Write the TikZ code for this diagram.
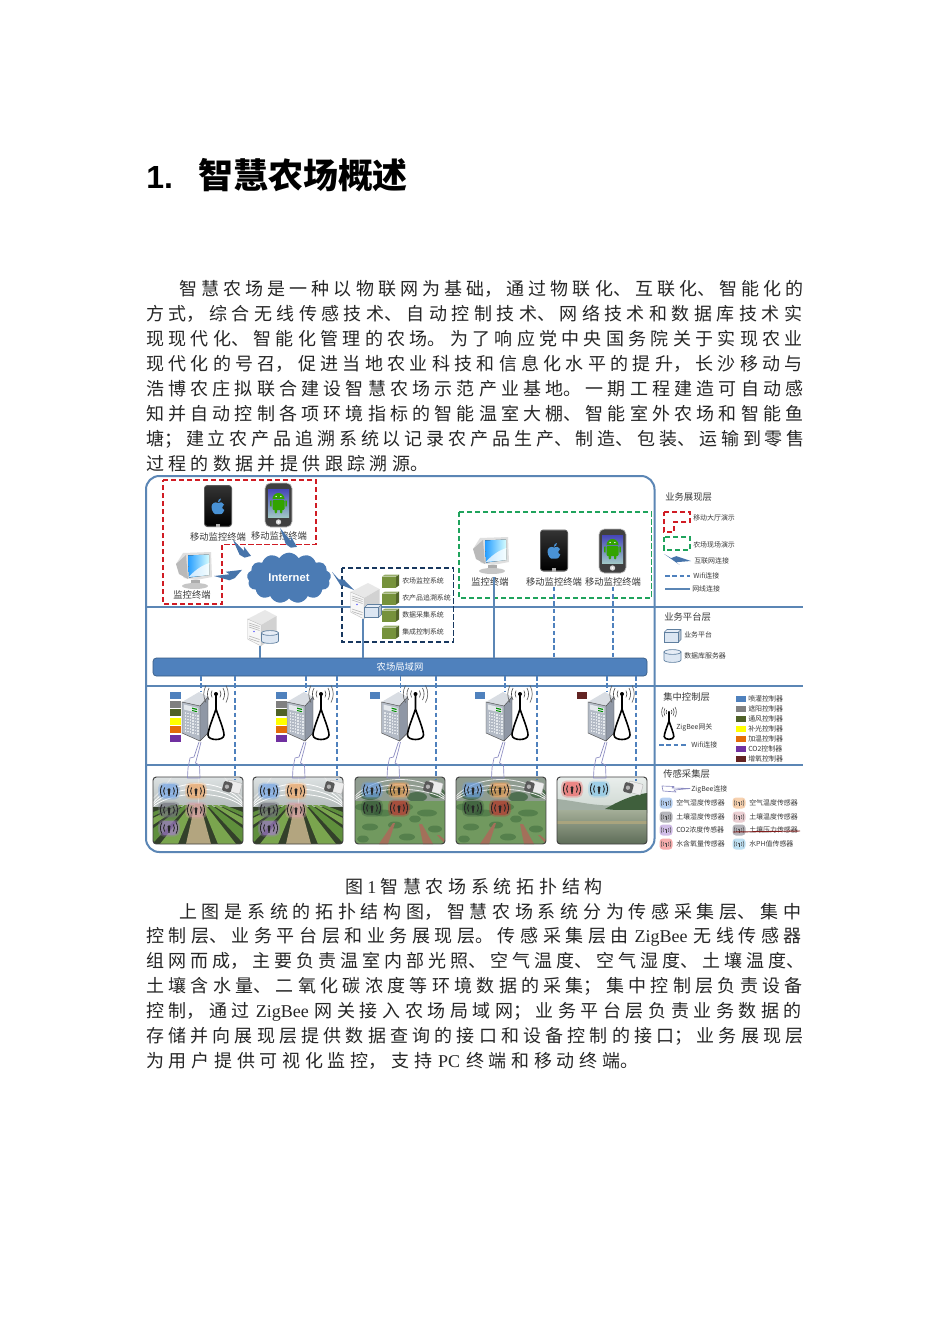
\documentclass[tikz,border=0pt]{standalone}
\usepackage{fontspec}
\setmainfont{Noto Sans CJK SC}
\newfontfamily\latserif{Liberation Serif}
\newfontfamily\latsans{Liberation Sans}
\XeTeXlinebreaklocale "zh"
\XeTeXlinebreakskip=0pt plus 6pt
\usetikzlibrary{shapes.symbols,calc}
\definecolor{lnk}{HTML}{4F81BD}
\definecolor{lay}{HTML}{5B86B5}
\definecolor{redd}{HTML}{D01C24}
\definecolor{grnd}{HTML}{1FA35C}
\definecolor{navd}{HTML}{17375E}
\definecolor{cblue}{HTML}{4F81BD}
\definecolor{cgray}{HTML}{808080}
\definecolor{colive}{HTML}{4F6228}
\definecolor{cyel}{HTML}{FFFF00}
\definecolor{corg}{HTML}{E36C09}
\definecolor{cpur}{HTML}{7030A0}
\definecolor{cmar}{HTML}{632423}
\definecolor{sblue}{HTML}{6FA2E6}
\definecolor{sorg}{HTML}{F0A460}
\definecolor{sgray}{HTML}{6E6E7A}
\definecolor{spink}{HTML}{D8A0A8}
\definecolor{spur}{HTML}{A47CD0}
\definecolor{sred}{HTML}{F05A5A}
\definecolor{steal}{HTML}{80C4E8}
\definecolor{sdgrn}{HTML}{2F4F35}
\definecolor{sdred}{HTML}{C02F2F}
\definecolor{txt}{HTML}{3A3A3A}
\definecolor{cubeg}{HTML}{76923C}
\definecolor{pale}{HTML}{DCE6F2}
\definecolor{palee}{HTML}{5F7F9F}
\definecolor{gwfront}{HTML}{B4BBC6}
\definecolor{gwside}{HTML}{8F97A5}
\definecolor{gwtop}{HTML}{D9DDE3}
\definecolor{gwcell}{HTML}{E4E8EC}
\definecolor{aSky}{HTML}{DDE2E3}
\definecolor{aSkyB}{HTML}{AEB6B4}
\definecolor{aSoil}{HTML}{33402A}
\definecolor{aRow}{HTML}{5F8F3C}
\definecolor{aRowB}{HTML}{7AA54E}
\definecolor{aPath}{HTML}{B3A57F}
\definecolor{bTop}{HTML}{8F9C90}
\definecolor{bFol}{HTML}{4F6F50}
\definecolor{bGrnd}{HTML}{71995F}
\definecolor{bPatch}{HTML}{55804C}
\definecolor{bPath}{HTML}{A3705A}
\definecolor{cSky}{HTML}{E9EEEC}
\definecolor{cSkyB}{HTML}{CFD8D2}
\definecolor{cHillA}{HTML}{A2AFA4}
\definecolor{cHillB}{HTML}{3F5F3C}
\definecolor{cWatA}{HTML}{A4AE98}
\definecolor{cWatB}{HTML}{5E6D58}
\definecolor{cBank}{HTML}{A9A47E}
\tikzset{
  x=0.75pt,y=-0.75pt,
  hit/.style 2 args={inner sep=0,outer sep=0,minimum width=#1*0.75pt,minimum height=#2*0.75pt},
  frameline/.style={draw=lay,line width=1.5pt},
  layline/.style={draw=lay,line width=0.8pt},
  wire/.style={draw=lay,line width=1pt},
  wifi/.style={draw=lnk,line width=1pt,dash pattern=on 3.5pt off 2pt},
  reddash/.style={draw=redd,line width=1.4pt,dash pattern=on 4pt off 2pt},
  grndash/.style={draw=grnd,line width=1.4pt,dash pattern=on 4pt off 2pt},
  navdash/.style={draw=navd,line width=1.4pt,dash pattern=on 4pt off 2pt},
  devlab/.style={inner sep=0,text=txt,font=\fontsize{7}{8}\selectfont},
  smallab/.style={inner sep=0,anchor=west,text=txt,font=\fontsize{5.2}{6}\selectfont},
  laytitle/.style={inner sep=0,anchor=west,text=txt,font=\fontsize{7}{8}\selectfont},
  body/.style={inner sep=0,anchor=base west,text width=507pt,font=\fontsize{13.5}{18.65}\selectfont,text=black!85},
  boltfill/.style={fill=lnk!90!black},
  pics/phonea/.style={code={
    \fill[gray!70!black,rounded corners=2.5pt] (-14,-21) rectangle (14,21);
    \fill[top color=black!80,bottom color=black,rounded corners=1.5pt] (-12.8,-19.5) rectangle (12.8,19.5);
    \fill[black!30] (-2,17.6) rectangle (2,21);
    \fill[cyan!60!blue!75] (0,-3) .. controls (2,-4.5) and (5,-4) .. (6,-1.5) .. controls (3.5,-0.5) and (3.5,3) .. (6.3,4) .. controls (5,7.5) and (3.2,9) .. (1.5,8.2) .. controls (0.5,7.8) and (-0.5,7.8) .. (-1.5,8.2) .. controls (-3.5,9) and (-6.5,5) .. (-6.5,1) .. controls (-6.5,-3) and (-3,-4.6) .. (0,-3) -- cycle;
    \fill[cyan!60!blue!75] (-0.2,-3.6) .. controls (-0.3,-6) and (1.3,-7.2) .. (3,-7.6) .. controls (3,-5.5) and (1.8,-4) .. (-0.2,-3.6) -- cycle;
  }},
  pics/phoneb/.style={code={
    \fill[black!75,rounded corners=4pt] (-13.5,-22) rectangle (13.5,22);
    \draw[gray!50,rounded corners=4pt,line width=.5pt] (-13.5,-22) rectangle (13.5,22);
    \fill[top color=blue!45!gray,bottom color=cyan!25!gray!60] (-10.5,-16) rectangle (10.5,12);
    \fill[green!55!black!80!yellow] (-6,-6) arc[start angle=180,end angle=360,radius=6];
    \fill[green!55!black!80!yellow,rounded corners=.8pt] (-6,-5) rectangle (6,5);
    \fill[green!55!black!80!yellow,rounded corners=.8pt] (-8.3,-5) rectangle (-6.8,2);
    \fill[green!55!black!80!yellow,rounded corners=.8pt] (6.8,-5) rectangle (8.3,2);
    \fill[green!55!black!80!yellow,rounded corners=.8pt] (-3.8,4) rectangle (-1.5,8.5);
    \fill[green!55!black!80!yellow,rounded corners=.8pt] (1.5,4) rectangle (3.8,8.5);
    \fill[white] (-2.4,-8.5) circle (.7) (2.4,-8.5) circle (.7);
    \fill[gray!30] (0,17) circle (2.7);
    \fill[white] (0,17) circle (1.2);
  }},
  pics/crt/.style={code={
    \fill[gray!25] (-18,-6) -- (-11,-17) -- (17,-18) -- (18,7) -- (2,10) -- (-10,8) -- cycle;
    \fill[gray!55] (-18,-6) -- (-8,-15) -- (-6,9) -- (-15,4) -- cycle;
    \fill[left color=cyan!55!blue!85,right color=cyan!15] (-6,-14.5) -- (15,-15.5) -- (15.5,5) -- (-5,7.5) -- cycle;
    \fill[white,opacity=.75] (-5.3,7) .. controls (2,-1) and (9,-5) .. (15.3,-7) -- (15.5,5) -- cycle;
    \fill[gray!65] (-3,10) rectangle (6,14);
    \fill[gray!45] (1,16) ellipse (13 and 3);
  }},
  pics/srvbox/.style={code={
    \fill[gray!18] (-14.5,-9) -- (3,-18) -- (14.5,-12) -- (-1,-3) -- cycle;
    \fill[gray!6] (-14.5,-9) -- (-1,-3) -- (-1,18) -- (-14.5,11) -- cycle;
    \fill[gray!35] (-1,-3) -- (14.5,-12) -- (14.5,8) -- (-1,18) -- cycle;
    \draw[gray!50,line width=.3pt] (-14.5,-9) -- (-1,-3) -- (-1,18) -- (-14.5,11) -- cycle;
    \foreach \t in {-5,-3,-1,8,10.5} {\draw[gray!60,line width=.4pt] (-13,\t) -- (-2.5,\t+3.5);}
    \fill[blue!60] (-8,3.5) circle (.8);
  }},
  pics/cubelt/.style={code={
    \fill[pale] (-8.5,-3.5) rectangle (5.5,6.5);
    \fill[pale!85!black] (5.5,-3.5) -- (8.5,-6.5) -- (8.5,3.5) -- (5.5,6.5) -- cycle;
    \fill[pale!70] (-8.5,-3.5) -- (-5.5,-6.5) -- (8.5,-6.5) -- (5.5,-3.5) -- cycle;
    \draw[palee,line width=.5pt] (-8.5,-3.5) rectangle (5.5,6.5);
    \draw[palee,line width=.5pt] (-8.5,-3.5) -- (-5.5,-6.5) -- (8.5,-6.5) -- (8.5,3.5) -- (5.5,6.5) (5.5,-3.5) -- (8.5,-6.5);
  }},
  pics/cyl/.style={code={
    \fill[pale,draw=palee,line width=.5pt] (-8.5,-4) -- (-8.5,4) arc[start angle=180,end angle=0,x radius=8.5,y radius=2.4] -- (8.5,-4) -- cycle;
    \fill[pale!70,draw=palee,line width=.5pt] (0,-4) ellipse (8.5 and 2.4);
  }},
  pics/greencube/.style={code={
    \fill[cubeg] (-8.5,-4.5) rectangle (5.5,6.5);
    \fill[cubeg!70!black] (5.5,-4.5) -- (8.5,-6.5) -- (8.5,4.5) -- (5.5,6.5) -- cycle;
    \fill[cubeg!75!white] (-8.5,-4.5) -- (-5.5,-6.5) -- (8.5,-6.5) -- (5.5,-4.5) -- cycle;
  }},
  pics/gwbox/.style={code={
    \fill[gwtop] (-13,-15) -- (4,-25) -- (13,-20) -- (5,-11) -- cycle;
    \fill[gwfront] (-13,-15) -- (5,-11) -- (5,24) -- (-13,16) -- cycle;
    \fill[gwside] (5,-11) -- (13,-20) -- (13,16) -- (5,24) -- cycle;
    \draw[gray!60!black,line width=.35pt] (-13,-15) -- (5,-11) -- (5,24) -- (-13,16) -- cycle (5,-11) -- (13,-20) -- (13,16) -- (5,24);
    \fill[gwcell] (-11,-12.5) -- (3,-9) -- (3,-4) -- (-11,-7.5) -- cycle;
    \fill[green!55!black] (-3,-9.4) -- (2,-8.2) -- (2,-7) -- (-3,-8.2) -- cycle;
    \fill[green!55!black] (-3,-7) -- (2,-5.8) -- (2,-4.8) -- (-3,-6) -- cycle;
    \foreach \u in {-10.5,-8,-5.5,-3,-0.5,2} {\foreach \v in {0,3,6,9,12,15,18} {\fill[gwcell] (\u,{\v-5-(\u+11)*(-.25)}) rectangle ++(1.5,1.7);}}
  }},
  pics/anten/.style={code={
    \fill[white] (0,15) .. controls (-3,24) and (-8,36) .. (-8,41) .. controls (-8,47) and (8,47) .. (8,41) .. controls (8,36) and (3,24) .. (0,15) -- cycle;
    \draw[black,line width=1.2pt,line join=round] (0,0) -- (0,15) .. controls (-3,24) and (-8,36) .. (-8,41) .. controls (-8,47) and (8,47) .. (8,41) .. controls (8,36) and (3,24) .. (0,15);
    \fill[black] (0,0) circle (2);
    \foreach \rr/\gg in {4/50,7/60,10/70} {
      \draw[gray!\gg!black,line width=.45pt] (-\rr,-\rr*.85) .. controls (-\rr*1.3,-\rr*.3) and (-\rr*1.3,\rr*.3) .. (-\rr,\rr*.85);
      \draw[gray!\gg!black,line width=.45pt] (\rr,-\rr*.85) .. controls (\rr*1.3,-\rr*.3) and (\rr*1.3,\rr*.3) .. (\rr,\rr*.85);
    }
  }},
  pics/sensor/.style={code={
    \fill[#1,opacity=.55,rounded corners=3.5pt] (-9.5,-7) rectangle (9.5,7);
    \fill[#1,opacity=.3,rounded corners=4pt] (-11,-8.5) rectangle (11,8.5);
    \fill[black!85] (0,-1.2) circle (1.7);
    \fill[black!85] (-1.2,0) -- (1.2,0) -- (.5,4.8) -- (-.5,4.8) -- cycle;
    \foreach \rr in {4.4,7} {
      \draw[black!85,line width=.65pt] (-\rr,-\rr*.8) .. controls (-\rr*1.3,-\rr*.3) and (-\rr*1.3,\rr*.3) .. (-\rr,\rr*.8);
      \draw[black!85,line width=.65pt] (\rr,-\rr*.8) .. controls (\rr*1.3,-\rr*.3) and (\rr*1.3,\rr*.3) .. (\rr,\rr*.8);
    }
  }},
  pics/lsensor/.style={code={
    \fill[#1,opacity=.5,rounded corners=2.5pt] (-6.5,-5.5) rectangle (6.5,5.5);
    \fill[black!75] (0,-.5) circle (.9);
    \draw[black!75,line width=.35pt] (0,0) -- (0,2.6);
    \foreach \rr in {2.4,4} {
      \draw[black!70,line width=.35pt] (-\rr,-\rr*.8) .. controls (-\rr*1.3,-\rr*.3) and (-\rr*1.3,\rr*.3) .. (-\rr,\rr*.8);
      \draw[black!70,line width=.35pt] (\rr,-\rr*.8) .. controls (\rr*1.3,-\rr*.3) and (\rr*1.3,\rr*.3) .. (\rr,\rr*.8);
    }
  }},
  pics/camera/.style={code={
    \begin{scope}[rotate=-15]
    \fill[gray!15,draw=gray!60,line width=.3pt,rounded corners=.6pt] (-5,-6) rectangle (9,5);
    \fill[black!65,rounded corners=1pt] (-9,-4) rectangle (0,6);
    \fill[black!30] (-5,1) circle (2.2);
    \end{scope}
  }},
  pics/panela/.style={code={
    \begin{scope}
    \clip[rounded corners=2.5pt] (0,0) rectangle (90,67);
    \fill[top color=aSky,bottom color=aSkyB] (0,0) rectangle (90,34);
    \foreach \h in {3,10,17} {\draw[white,line width=.6pt] (-6,36) .. controls (10,\h-6) and (80,\h-6) .. (96,36);}
    \foreach \q in {20,45,70} {\draw[white!85!gray,line width=.5pt] (\q,-2) .. controls ({\q+(\q-45)*.3},10) and ({\q+(\q-45)*.7},20) .. ({\q+(\q-45)*1.3},32);}
    \fill[aSoil] (0,30) rectangle (90,67);
    \foreach \a/\b/\cc in {-130/-104/aRow,-96/-74/aRowB,-66/-46/aRow,-38/-20/aRowB,20/38/aRowB,46/66/aRow,74/96/aRowB,104/130/aRow} {\fill[\cc] (45+\a*.2,28) -- (45+\b*.2,28) -- (45+\b,67) -- (45+\a,67) -- cycle;}
    \fill[aPath] (42,27) -- (47,27) -- (58,67) -- (33,67) -- cycle;
    \end{scope}
    \draw[gray!50!black,rounded corners=2.5pt,line width=.7pt] (0,0) rectangle (90,67);
  }},
  pics/panelb/.style={code={
    \begin{scope}
    \clip[rounded corners=2.5pt] (0,0) rectangle (90,67);
    \fill[bTop] (0,0) rectangle (90,26);
    \foreach \u/\v/\w in {15/18/10,40/14/9,62/20/10,82/16/8} {\fill[bFol] (\u,\v) ellipse[x radius=\w,y radius=5];}
    \foreach \h in {-2,5,11} {\draw[white!85!gray,line width=.6pt] (-6,28) .. controls (10,\h-4) and (80,\h-4) .. (96,28);}
    \fill[bGrnd] (0,24) rectangle (90,67);
    \foreach \u/\v/\w in {8/30/8,28/36/9,50/30/8,72/36/10,15/50/8,40/48/7,80/52/7,60/42/6,52/60/8,8/62/6} {\fill[bPatch] (\u,\v) ellipse[x radius=\w,y radius=3.5];}
    \fill[bPath] (24,67) -- (38,46) -- (40,46) -- (33,67) -- cycle;
    \fill[bPath] (64,47) -- (67,47) -- (78,67) -- (68,67) -- cycle;
    \fill[bPath] (82,58) -- (84,58) -- (90,63) -- (90,67) -- cycle;
    \end{scope}
    \draw[gray!50!black,rounded corners=2.5pt,line width=.7pt] (0,0) rectangle (90,67);
  }},
  pics/panelc/.style={code={
    \begin{scope}
    \clip[rounded corners=2.5pt] (0,0) rectangle (90,67);
    \fill[top color=cSky,bottom color=cSkyB] (0,0) rectangle (90,32);
    \fill[cHillA] (0,22) .. controls (20,24) and (40,30) .. (60,28) -- (60,36) -- (0,36) -- cycle;
    \fill[cHillB] (90,16) .. controls (75,18) and (62,24) .. (48,32) -- (90,36) -- cycle;
    \fill[top color=cWatA,bottom color=cWatB] (0,33) rectangle (90,67);
    \fill[cBank] (0,44) -- (90,44) -- (90,47) -- (0,47) -- cycle;
    \end{scope}
    \draw[gray!50!black,rounded corners=2.5pt,line width=.7pt] (0,0) rectangle (90,67);
  }},
}
\newcommand\mybolt[2]{%
  \fill[boltfill] (#1) -- ($(#1)!.55!(#2)!1.3pt!90:(#2)$) -- ($(#1)!.42!(#2)!3.2pt!90:(#2)$) -- ($(#1)!1!(#2)!4.6pt!90:(#2)$) -- ($(#1)!1!(#2)!4.6pt!-90:(#2)$) -- ($(#1)!.74!(#2)!1.6pt!-90:(#2)$) -- ($(#1)!.55!(#2)!3.2pt!-90:(#2)$) -- cycle;
}
\newcommand\zipwire[1]{%
  \draw[gray!70!blue!70,line width=.5pt,line join=round] (199+#1,742) -- (194+#1,757) -- (190+#1,758) -- (188+#1,768) -- (187.5+#1,778) -- (200+#1,778) -- (199.5+#1,765) -- (195.5+#1,763) -- (199+#1,750) -- (201+#1,742);
}
\begin{document}
\begin{tikzpicture}
\useasboundingbox (0,0) rectangle (950,1344);
\fill[white] (0,0) rectangle (950,1344);

% heading
\node[inner sep=0,anchor=base west,font=\latsans\bfseries\fontsize{24}{26}\selectfont] (hnum) at (146,189) {1.};
\node[inner sep=0,anchor=base west,font=\bfseries\fontsize{26.2}{28}\selectfont] (htitle) at (198,189) {智慧农场概述};

% paragraph 1
\node[body] (para1) at (146,296) {\hspace*{24.75pt}智慧农场是一种以物联网为基础，通过物联化、互联化、智能化的\linebreak 方式，综合无线传感技术、自动控制技术、网络技术和数据库技术实\linebreak 现现代化、智能化管理的农场。为了响应党中央国务院关于实现农业\linebreak 现代化的号召，促进当地农业科技和信息化水平的提升，长沙移动与\linebreak 浩博农庄拟联合建设智慧农场示范产业基地。一期工程建造可自动感\linebreak 知并自动控制各项环境指标的智能温室大棚、智能室外农场和智能鱼\linebreak 塘；建立农产品追溯系统以记录农产品生产、制造、包装、运输到零售\linebreak 过程的数据并提供跟踪溯源。\hskip 0pt\parfillskip=281pt\par};

% frame and layers
\draw[frameline,rounded corners=10pt] (146,476) rectangle (654.5,852);
\draw[layline] (146,607) -- (803,607);
\draw[layline] (146,686) -- (803,686);
\draw[layline] (146,765) -- (803,765);

% dashed groups
\draw[reddash] (163,480) -- (316,480) -- (316,544.5) -- (222,544.5) -- (222,604) -- (163,604) -- cycle;
\draw[grndash] (459,512) rectangle (651.5,598);
\draw[navdash] (342,568) rectangle (453.5,642);

% LAN
\node[hit={494}{18},fill=lnk,draw=lnk!70!black,line width=.5pt,rounded corners=2.5pt,text=white,font=\fontsize{7}{8}\selectfont] (lan) at (400,667) {农场局域网};

% presentation layer devices
\node[hit={28}{42}] (ph1) at (218,506) {}; \pic at (ph1) {phonea};
\node[hit={27}{44}] (ph2) at (278.5,505) {}; \pic at (ph2) {phoneb};
\node[hit={36}{36}] (mon1) at (194,570) {}; \pic at (mon1) {crt};
\node[devlab] (ph1l) at (218,537) {移动监控终端};
\node[devlab] (ph2l) at (279,535.5) {移动监控终端};
\node[devlab] (mon1l) at (192,594.5) {监控终端};

\node[hit={34}{34},fill=none] (mon2) at (491,555) {}; \pic at (mon2) {crt};
\node[hit={28}{42}] (ph3) at (554,550.5) {}; \pic at (ph3) {phonea};
\node[hit={27}{44}] (ph4) at (612.5,551) {}; \pic at (ph4) {phoneb};
\node[devlab] (mon2l) at (490,582) {监控终端};
\node[devlab] (ph3l) at (554,582) {移动监控终端};
\node[devlab] (ph4l) at (613,582) {移动监控终端};
\draw[wire] (mon2l.north -| 494,0) -- (lan.north -| 494,0);
\draw[wifi] (ph3l.south) -- (lan.north -| ph3l.south);
\draw[wifi] (ph4l.south) -- (lan.north -| ph4l.south);

% cloud
\node[cloud,cloud puffs=13,cloud puff arc=120,aspect=1.7,fill=lnk!95!black,inner sep=0,minimum width=63pt,minimum height=38pt,text=white,font=\latsans\bfseries\fontsize{8.4}{9}\selectfont] (net) at (289,578) {Internet};
\coordinate (b1a) at (233,540); \coordinate (b1b) at (251,562);
\coordinate (b2a) at (280,528); \coordinate (b2b) at (297,553);
\coordinate (b3a) at (214,576); \coordinate (b3b) at (242,576);
\mybolt{b1a}{b1b}
\mybolt{b2a}{b2b}
\mybolt{b3a}{b3b}

% servers
\node[hit={29}{36}] (srv1) at (365,601) {}; \pic at (srv1) {srvbox};
\pic at ($(srv1)+(8,10)$) {cubelt};
\coordinate (b4a) at (354,590);
\coordinate (b4b) at (332,578);
\mybolt{b4a}{b4b}
\node[hit={29}{36}] (srv2) at (262,628) {}; \pic at (srv2) {srvbox};
\pic at ($(srv2)+(8,9)$) {cyl};
\draw[wire] (srv1.south) ++(-2,0) coordinate (s1b) -- (lan.north -| s1b);
\draw[wire] (srv2.south) ++(-2,0) coordinate (s2b) -- (lan.north -| s2b);

% systems
\foreach \n/\yy/\tt in {a/581/农场监控系统,b/598/农产品追溯系统,c/615/数据采集系统,d/632/集成控制系统} {
  \node[hit={17}{13}] (cb\n) at (390.5,\yy) {};
  \pic at (cb\n) {greencube};
  \node[smallab] (cbl\n) at (402,\yy) {\tt};
}

% gateways
\foreach \i/\dx/\ox/\cx/\cy/\ptype in {1/0/0/235/787/panela,2/105/100/337/787/panela,3/199.5/202/436/787/panelb,4/304/303/537/787/panelb,5/406/404/636/788/panelc} {
  \node[hit={26}{49}] (gw\i) at (195+\dx,717) {};
  \pic at (gw\i) {gwbox};
  \coordinate (gwt\i) at (201+\dx,692);
  \pic at (216+\dx,694) {anten};
  \draw[wifi] (lan.south -| gwt\i) -- (gwt\i);
  \node[hit={90}{67}] (pan\i) at (198+\ox,810.5) {};
  \pic at (pan\i.north west) {\ptype};
  \node[hit={16}{14}] (cam\i) at (\cx,\cy) {};
  \pic at ($(cam\i)+(-3,0)$) {camera};
  \draw[wifi] (lan.south -| cam\i) -- (cam\i.north);
  \zipwire{\dx}
}
% controller bars
\foreach \k/\cc in {0/cblue,1/cgray,2/colive,3/cyel,4/corg,5/cpur} {
  \fill[\cc] (170,692+\k*8.55) rectangle (181,699+\k*8.55);
  \fill[\cc] (275.5,692+\k*8.55) rectangle (286.5,699+\k*8.55);
}
\fill[cblue] (370,692) rectangle (380,699);
\fill[cblue] (475,692) rectangle (485,699);
\fill[cmar] (577,692) rectangle (587,699);

% sensors on panels
\foreach \dd in {0,100} {
  \pic at (169+\dd,791) {sensor=sblue};
  \pic at (196+\dd,791) {sensor=sorg};
  \pic at (169+\dd,810) {sensor=sgray};
  \pic at (196+\dd,810) {sensor=spink};
  \pic at (169+\dd,828) {sensor=spur};
}
\foreach \dd in {0,101} {
  \pic at (372+\dd,790) {sensor=sblue};
  \pic at (399+\dd,790) {sensor=sorg};
  \pic at (372+\dd,808) {sensor=sdgrn};
  \pic at (399+\dd,808) {sensor=sdred};
}
\pic at (572,789) {sensor=sred};
\pic at (599,789) {sensor=steal};

% legend presentation
\node[laytitle] (t1) at (665,497) {业务展现层};
\draw[reddash] (664,512) -- (690,512) -- (690,522) -- (674,522) -- (674,532) -- (664,532) -- cycle;
\node[smallab] (l1) at (693,518) {移动大厅演示};
\draw[grndash] (664,537) rectangle (690,550);
\node[smallab] (l2) at (693,545) {农场现场演示};
\coordinate (la) at (691,561); \coordinate (lb) at (664,560);
\mybolt{la}{lb}
\node[smallab] (l3) at (694,561) {互联网连接};
\coordinate (lwa) at (665,576); \coordinate (lwb) at (690,576);
\draw[wifi] (lwa) -- (lwb);
\node[smallab] (l4) at (693,575.5) {Wifi连接};
\coordinate (lna) at (665,589); \coordinate (lnb) at (690,589);
\draw[wire] (lna) -- (lnb);
\node[smallab] (l5) at (692,589) {网线连接};

% legend platform
\node[laytitle] (t2) at (664,617) {业务平台层};
\pic at (672.5,636) {cubelt};
\node[smallab] (l6) at (684,635) {业务平台};
\pic at (672.5,656) {cyl};
\node[smallab] (l7) at (684,656) {数据库服务器};

% legend control
\node[laytitle] (t3) at (663,697) {集中控制层};
\pic[scale=.6] at (669,712) {anten};
\node[smallab] (l8) at (676,727) {ZigBee网关};
\coordinate (lxa) at (659,745); \coordinate (lxb) at (687,745);
\draw[wifi] (lxa) -- (lxb);
\node[smallab] (l9) at (691,745) {Wifi连接};
\foreach \cc/\yy/\tt in {cblue/699/喷灌控制器,cgray/709/遮阳控制器,colive/719/通风控制器,cyel/729/补光控制器,corg/739/加温控制器,cpur/749/CO2控制器,cmar/759/增氧控制器} {
  \fill[\cc] (736,\yy-3.3) rectangle (745.5,\yy+3.3);
  \node[smallab] (ctl\yy) at (748,\yy) {\tt};
}

% legend sensors
\node[laytitle] (t4) at (663,774) {传感采集层};
\draw[gray!70!blue!70,line width=.5pt,line join=round] (662,786) -- (674,786.5) -- (672,788) -- (690,788.5) -- (674,790) -- (676,792) -- (663,791) -- cycle;
\node[smallab] (l10) at (691,789) {ZigBee连接};
\foreach \cc/\yy/\tt in {sblue/803/空气湿度传感器,sgray/817/土壤湿度传感器,spur/830/CO2浓度传感器,sred/844/水含氧量传感器} {
  \pic at (666,\yy) {lsensor=\cc};
  \node[smallab] (sl\yy) at (676,\yy) {\tt};
}
\foreach \cc/\yy/\tt in {sorg/803/空气温度传感器,spink/817/土壤温度传感器,sgray/830/土壤压力传感器,steal/844/水PH值传感器} {
  \pic at (739,\yy) {lsensor=\cc};
  \node[smallab] (sr\yy) at (749,\yy) {\tt};
}
\coordinate (sa) at (733,832); \coordinate (sb) at (800,831);
\draw[cmar!80!red,line width=.7pt] (sa) -- (sb);

% caption and paragraph 2
\node[inner sep=0,anchor=base west,text width=209.25pt,font=\fontsize{13.5}{16}\selectfont,text=black!85] (cap) at (345,893) {图\hspace{3pt}{\latserif 1}\hspace{3pt}智慧农场系统拓扑结构\hskip 0pt\parfillskip=0pt\par};
\node[body] (para2) at (146,918) {\hspace*{24.75pt}上图是系统的拓扑结构图，智慧农场系统分为传感采集层、集中\linebreak 控制层、业务平台层和业务展现层。传感采集层由{\latserif\ ZigBee\ }无线传感器\linebreak 组网而成，主要负责温室内部光照、空气温度、空气湿度、土壤温度、\linebreak 土壤含水量、二氧化碳浓度等环境数据的采集；集中控制层负责设备\linebreak 控制，通过{\latserif\ ZigBee\ }网关接入农场局域网；业务平台层负责业务数据的\linebreak 存储并向展现层提供数据查询的接口和设备控制的接口；业务展现层\linebreak 为用户提供可视化监控，支持{\latserif\ PC\ }终端和移动终端。\hskip 0pt\parfillskip=122pt\par};
\end{tikzpicture}
\end{document}
